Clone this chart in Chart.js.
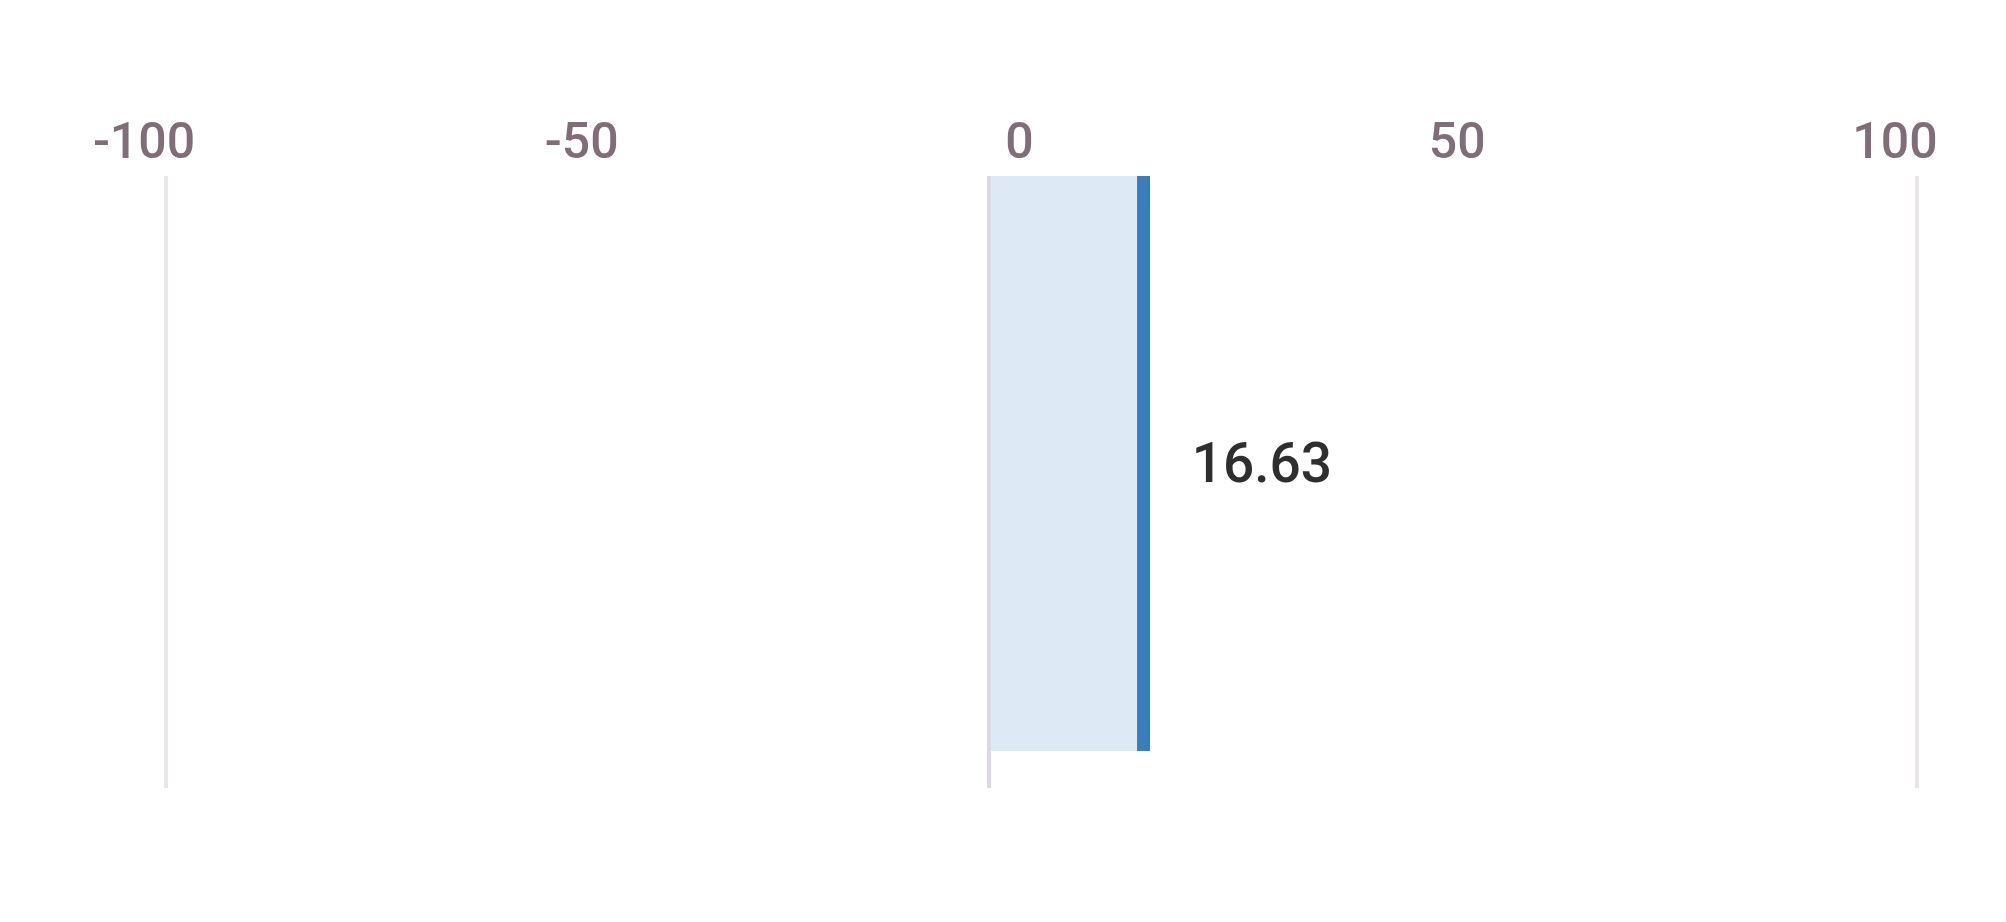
<!DOCTYPE html>
<html>
<head>
<meta charset="utf-8">
<script src="https://cdn.jsdelivr.net/npm/chart.js@4.4.1/dist/chart.umd.min.js"></script>
<style>
  html, body { margin: 0; padding: 0; background: #fff; }
  #wrap { width: 2006px; height: 922px; }
</style>
</head>
<body>
<div id="wrap"><canvas id="chart"></canvas></div>
<script>
// data
const categories = [''];
const values = [16.63];
const tickValues = [-100, -50, 0, 50, 100];

// value label drawn next to the bar end
const valueLabels = {
    id: 'valueLabels',
    afterDatasetsDraw(chart) {
        const ctx = chart.ctx;
        ctx.save();
        ctx.font = '500 55px Roboto';
        ctx.fillStyle = '#2e2e2e';
        ctx.textAlign = 'left';
        ctx.textBaseline = 'middle';
        chart.getDatasetMeta(0).data.forEach((bar, i) => {
            ctx.fillText(values[i].toFixed(2), bar.x + 42, bar.y + 5);
        });
        ctx.restore();
    }
};

new Chart(document.getElementById('chart'), {
    type: 'bar',
    data: {
        labels: categories,
        datasets: [{
            data: values,
            xAxisID: 'xb',
            backgroundColor: '#dde9f4',
            borderColor: '#3a7ebf',
            borderWidth: { right: 13, left: 0, top: 0, bottom: 0 },
            borderSkipped: false,
            barPercentage: 1,
            categoryPercentage: 1
        }]
    },
    options: {
        indexAxis: 'y',
        responsive: true,
        maintainAspectRatio: false,
        animation: false,
        layout: { padding: { top: 114, bottom: 134, left: 166, right: 89 } },
        plugins: { legend: { display: false }, tooltip: { enabled: false } },
        scales: {
            x: {
                position: 'top',
                min: -100,
                max: 100,
                afterBuildTicks: s => { s.ticks = tickValues.map(v => ({ value: v })); },
                grid: { display: false, drawTicks: false },
                border: { display: false },
                ticks: {
                    color: '#7f6d78',
                    font: { family: 'Roboto', size: 50, weight: '500' },
                    padding: 1,
                    labelOffset: -22,
                    maxRotation: 0
                }
            },
            xb: {
                position: 'bottom',
                min: -85,
                max: 95.9,
                z: 1,
                afterBuildTicks: s => { s.ticks = [s.min, 0, s.max].map(v => ({ value: v })); },
                ticks: { display: false },
                border: { display: false },
                grid: {
                    color: c => c.tick && c.tick.value === 0 ? '#dcd7e2' : '#e8e6ea',
                    lineWidth: 4,
                    drawTicks: true,
                    tickLength: 37
                }
            },
            y: { display: false }
        }
    },
    plugins: [valueLabels]
});
</script>
</body>
</html>
